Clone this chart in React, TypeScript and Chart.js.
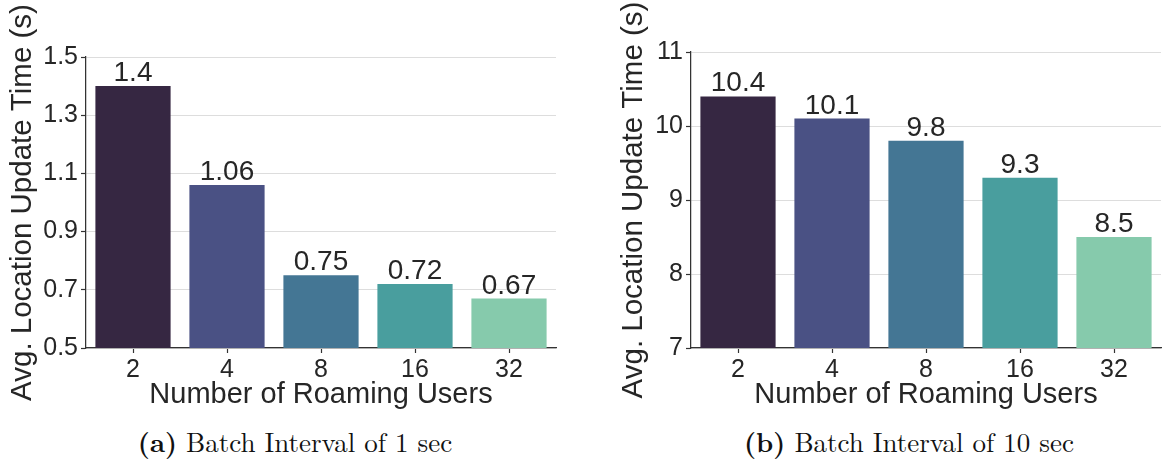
import React, { useEffect, useRef } from "react";
import { Chart, registerables } from "chart.js";

Chart.register(...registerables);

const categories = ["2", "4", "8", "16", "32"];
const valuesA = [1.4, 1.06, 0.75, 0.72, 0.67];
const valuesB = [10.4, 10.1, 9.8, 9.3, 8.5];
const barColors = ["#362742", "#4A5184", "#447694", "#499E9E", "#86CAAC"];
const yTitle = "Avg. Location Update Time (s)";
const xTitle = "Number of Roaming Users";

const FONT = "'Liberation Sans', Arial, Helvetica, sans-serif";
const TEXT = "#262626";

const valueLabels = {
  id: "valueLabels",
  afterDatasetsDraw(chart: any) {
    const ctx = chart.ctx;
    const meta = chart.getDatasetMeta(0);
    const data = chart.data.datasets[0].data;
    ctx.save();
    ctx.font = `28px ${FONT}`;
    ctx.fillStyle = TEXT;
    ctx.textAlign = "center";
    ctx.textBaseline = "alphabetic";
    meta.data.forEach((bar: any, i: number) => {
      ctx.fillText(String(data[i]), bar.x, bar.y - 5);
    });
    ctx.restore();
  },
};

function BarPanel(props: {
  values: number[];
  min: number;
  max: number;
  step: number;
  decimals: number;
  yWidth: number;
  titlePad: number;
  padTop: number;
  padRight: number;
}) {
  const ref = useRef<HTMLCanvasElement>(null);
  useEffect(() => {
    if (!ref.current) return;
    const chart = new Chart(ref.current, {
      type: "bar",
      data: {
        labels: categories,
        datasets: [
          {
            data: props.values,
            backgroundColor: barColors,
            borderWidth: 0,
            categoryPercentage: 1,
            barPercentage: 0.8,
          },
        ],
      },
      options: {
        animation: false,
        responsive: false,
        maintainAspectRatio: false,
        layout: { padding: { top: props.padTop, right: props.padRight, left: 0, bottom: 0 } },
        plugins: { legend: { display: false }, tooltip: { enabled: false } },
        scales: {
          x: {
            offset: true,
            grid: { drawOnChartArea: false, offset: false, tickColor: "#333333", tickLength: 5, tickWidth: 1.2 },
            border: { color: "#333333", width: 1.25 },
            ticks: { color: TEXT, font: { family: FONT, size: 25 }, padding: 2, maxRotation: 0 },
            title: {
              display: true,
              text: xTitle,
              color: TEXT,
              font: { family: FONT, size: 29 },
              padding: { top: 0, bottom: 8 },
            },
            afterFit: (s: any) => {
              s.height = 72;
            },
          },
          y: {
            min: props.min,
            max: props.max,
            grid: { color: "#dddddd", lineWidth: 1, tickColor: "#333333", tickLength: 5, tickWidth: 1.2 },
            border: { color: "#333333", width: 1.25 },
            ticks: {
              stepSize: props.step,
              color: TEXT,
              font: { family: FONT, size: 25 },
              padding: 3,
              callback: (v: any) => Number(v).toFixed(props.decimals),
            },
            title: {
              display: true,
              text: yTitle,
              color: TEXT,
              font: { family: FONT, size: 29.5 },
              padding: { top: props.titlePad, bottom: 0 },
            },
            afterFit: (s: any) => {
              s.width = props.yWidth;
            },
          },
        },
      },
      plugins: [valueLabels],
    });
    return () => chart.destroy();
  }, []);
  return <canvas ref={ref} width={props.yWidth + 470 + props.padRight} height={420} />;
}

export default function App() {
  const caption: React.CSSProperties = {
    position: "absolute",
    top: 421,
    fontFamily: "'Latin Modern Roman', 'Liberation Serif', 'DejaVu Serif', serif",
    fontSize: 27,
    color: "#111",
    textAlign: "center",
    whiteSpace: "nowrap",
    width: 500,
  };
  return (
    <div style={{ position: "absolute", left: 0, top: 0, width: 1164, height: 465, background: "#fff", overflow: "hidden" }}>
      <div style={{ position: "absolute", left: 0, top: 0 }}>
        <BarPanel values={valuesA} min={0.5} max={1.5} step={0.2} decimals={1} yWidth={86} titlePad={5} padTop={57} padRight={24} />
      </div>
      <div style={{ position: "absolute", left: 610, top: 0 }}>
        <BarPanel values={valuesB} min={7} max={11} step={1} decimals={0} yWidth={81} titlePad={6} padTop={52} padRight={4} />
      </div>
      <div style={{ ...caption, left: 295 - 250 }}>
        <b>(a)</b> Batch Interval of 1 sec
      </div>
      <div style={{ ...caption, left: 909 - 250 }}>
        <b>(b)</b> Batch Interval of 10 sec
      </div>
    </div>
  );
}
